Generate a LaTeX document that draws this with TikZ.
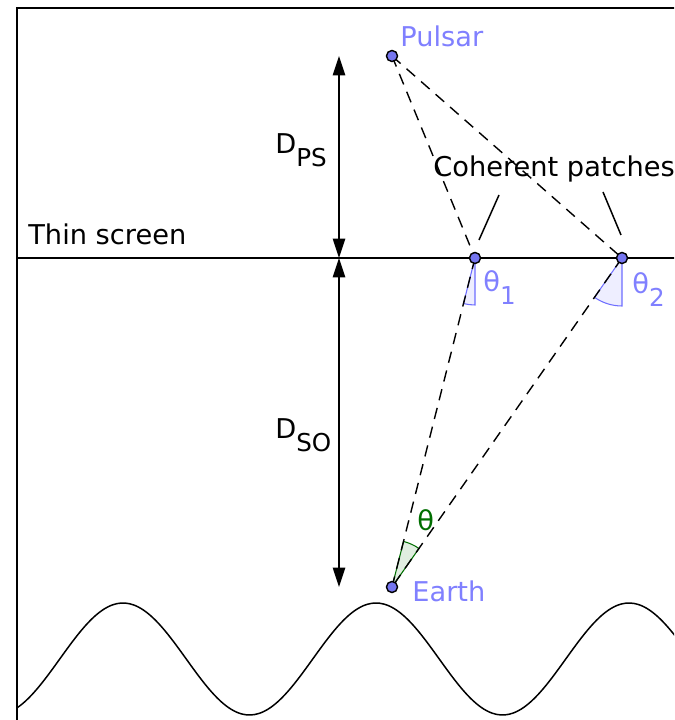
\documentclass[tikz,border=0pt]{standalone}
\usepackage{fontspec}
\setmainfont{DejaVu Sans}
\usepackage{tikz}
\usetikzlibrary{arrows.meta}
\usepackage{xcolor}

\definecolor{lblblue}{RGB}{128,128,255}
\definecolor{ptfill}{RGB}{118,118,240}
\definecolor{wedgeblue}{RGB}{110,110,255}
\definecolor{lblgreen}{RGB}{0,110,0}
\newcommand{\lowsub}[1]{\raisebox{-7pt}{\fontsize{14}{15}\selectfont #1}}

\begin{document}
\begin{tikzpicture}[x=0.02cm,y=0.02cm,>={Triangle[length=11pt,width=7pt]},
  font=\fontsize{15.5}{18}\selectfont,
  pt/.style={circle,draw=black,line width=0.8pt,fill=ptfill,inner sep=0pt,minimum size=6.3pt},
  lbl/.style={anchor=base west,inner sep=0pt},
  ray/.style={dashed,dash pattern=on 6.5pt off 4.5pt,line width=0.8pt},
  thinline/.style={line width=0.85pt}]
\useasboundingbox (0,0) rectangle (674,720);
\clip (0,0) rectangle (674,720);
% frame
\draw[line width=1pt] (17,0) -- (17,712) -- (680,712);
% positions
\coordinate (P) at (392,664);
\coordinate (A) at (475,462);
\coordinate (B) at (622,462);
\coordinate (E) at (392,133);
% angles
\filldraw[draw=wedgeblue,fill=wedgeblue!12,line width=0.6pt]
  (A) -- ++(255.8:47) arc[start angle=255.8,end angle=270,radius=47] -- cycle;
\filldraw[draw=wedgeblue,fill=wedgeblue!12,line width=0.6pt]
  (B) -- ++(235.0:48) arc[start angle=235.0,end angle=270,radius=48] -- cycle;
\filldraw[draw=lblgreen,fill=lblgreen!12,line width=0.6pt]
  (E) -- ++(55.0:47) arc[start angle=55.0,end angle=75.8,radius=47] -- cycle;
% screen and wave
\draw[thinline] (17,462) coordinate (scrL) -- (680,462) coordinate (scrR);
\draw[thinline] plot[domain=17:680,samples=160,smooth] (\x,{61+56*cos(1.42292*(\x-376))});
% rays
\draw[ray] (P) -- (A);
\draw[ray] (P) -- (B);
\draw[ray] (A) -- (E);
\draw[ray] (B) -- (E);
% distances
\coordinate (dTop) at (339,664);
\coordinate (dMid) at (339,462);
\coordinate (dBot) at (339,133);
\draw[<->,thinline] (dTop) -- (dMid);
\draw[<->,thinline] (dMid) -- (dBot);
\node[lbl] (dps) at (275,566) {D\lowsub{PS}};
\node[lbl] (dso) at (275,281) {D\lowsub{SO}};
% labels
\node[lbl] (screen) at (28,475) {Thin screen};
\node[lbl] (coh) at (433,543) {Coherent patches};
\coordinate (cA) at (499,525);
\coordinate (cB) at (603,528);
\draw[thinline] (cA) -- (479,480);
\draw[thinline] (cB) -- (621,485);
% points
\node[pt] (pulsar) at (P) {};
\node[pt] (patchA) at (A) {};
\node[pt] (patchB) at (B) {};
\node[pt] (earth) at (E) {};
\node[lbl,text=lblblue] (pulsarlbl) at (400,673) {Pulsar};
\node[lbl,text=lblblue] (earthlbl) at (412,118) {Earth};
\node[lbl,text=lblblue] (th1) at (483,428) {θ\lowsub{1}};
\node[lbl,text=lblblue] (th2) at (632,426) {θ\lowsub{2}};
\node[lbl,text=lblgreen] (th) at (417,189) {θ};
\end{tikzpicture}
\end{document}
